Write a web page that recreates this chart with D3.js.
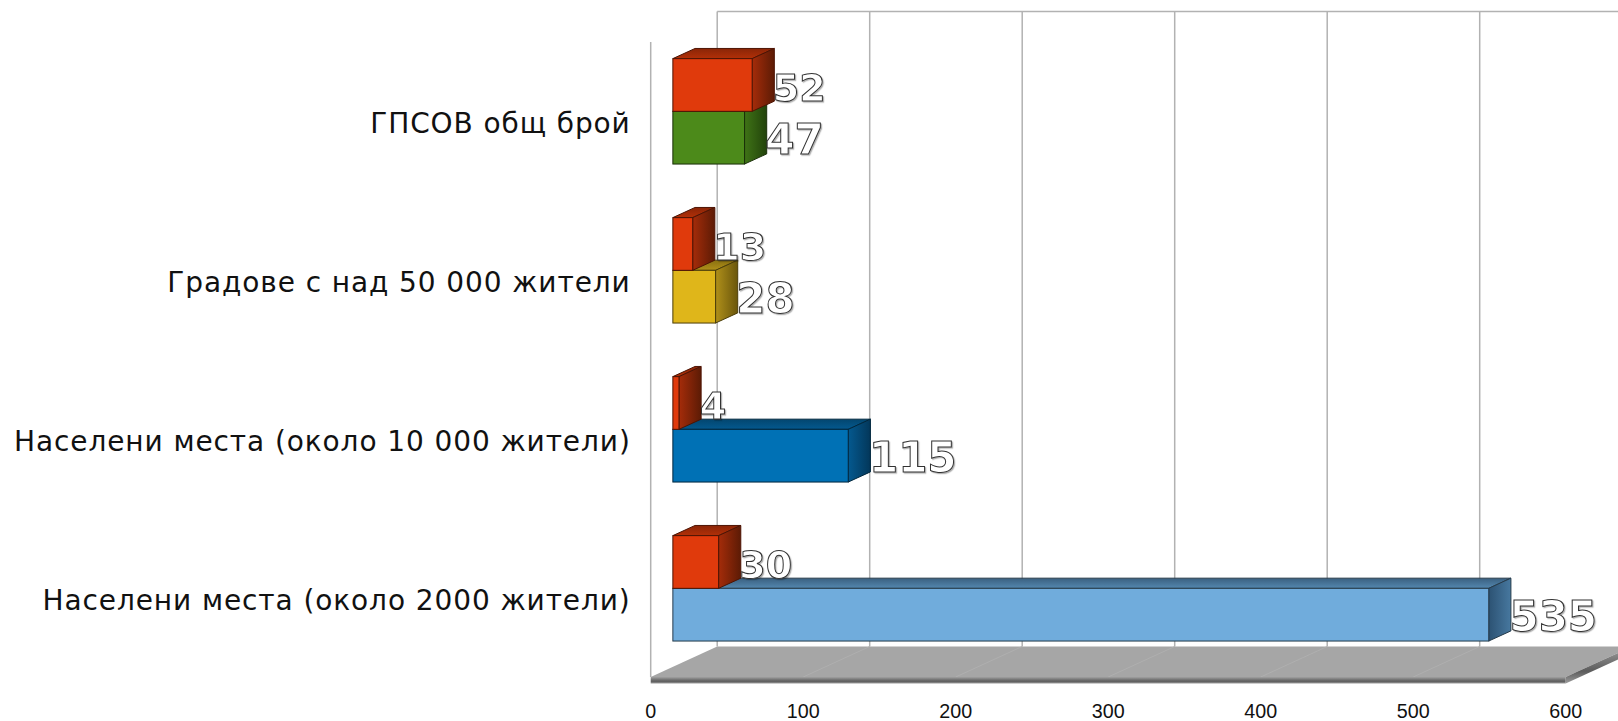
<!DOCTYPE html>
<html>
<head>
<meta charset="utf-8">
<script src="https://cdn.jsdelivr.net/npm/d3@7"></script>
<style>
html, body { margin: 0; padding: 0; background: #fff; overflow: hidden; }
.cat text { font-family: "DejaVu Sans", sans-serif; font-size: 28px; fill: #111; letter-spacing: 0.9px; }
.val text { font-family: "Liberation Sans", Arial, sans-serif; font-size: 19.7px; fill: #111; }
.num { font-family: "DejaVu Sans", sans-serif; font-weight: bold; fill: #fff; stroke: #333; stroke-width: 1; filter: url(#numShadow); }
</style>
</head>
<body>
<div id="chart-area"></div>
<script>
// DATA
var categories = ['ГПСОВ общ брой', 'Градове с над 50 000 жители', 'Населени места (около 10 000 жители)', 'Населени места (около 2000 жители)'];
var redValues = [52, 13, 4, 30];
var otherValues = [47, 28, 115, 535];
var otherColors = ['#4c8a1a', '#dfb61a', '#0071b5', '#70acdc'];
var redColor = '#e03a0c';
var xTicks = [0, 100, 200, 300, 400, 500, 600];

// CANVAS
var width = 1618, height = 721;
var svg = d3.select('#chart-area').append('svg')
    .attr('width', width)
    .attr('height', height)
    .style('display', 'block');
var defs = svg.append('defs');

var shadow = defs.append('filter').attr('id', 'numShadow')
    .attr('x', '-10%').attr('y', '-10%').attr('width', '130%').attr('height', '130%');
shadow.append('feDropShadow')
    .attr('dx', 1.2).attr('dy', 1.2).attr('stdDeviation', 0.7)
    .attr('flood-color', '#000').attr('flood-opacity', 0.3);

// depth of the 3d box
var depthX = 66.5, depthY = -30.5;

// SCALES
var x = d3.scaleLinear().domain([0, 600]).range([650.7, 1565.7]);
var y = d3.scaleBand().domain(categories).range([42, 678]).paddingInner(0.337).paddingOuter(0.1685);
var inner = d3.scaleBand().domain(['red', 'other']).range([0, y.bandwidth()]);

// WALLS
var floorY = 677;
var wallTop = 11.5;
var wallBottom = floorY + depthY;
var g = svg.append('g');

g.selectAll('.grid').data(xTicks).enter().append('line')
    .attr('class', 'grid')
    .attr('x1', d => x(d) + depthX).attr('x2', d => x(d) + depthX)
    .attr('y1', wallTop).attr('y2', wallBottom)
    .attr('stroke', '#b2b2b2').attr('stroke-width', 1.5);
g.append('line')
    .attr('x1', x(0) + depthX).attr('x2', width)
    .attr('y1', wallTop).attr('y2', wallTop)
    .attr('stroke', '#b2b2b2').attr('stroke-width', 1.5);
g.append('line')
    .attr('x1', x(0)).attr('x2', x(0))
    .attr('y1', 42).attr('y2', floorY)
    .attr('stroke', '#b2b2b2').attr('stroke-width', 1.5);

// FLOOR
function vGrad(id, stops, dir) {
    var gr = defs.append('linearGradient').attr('id', id);
    if (dir === 'h') gr.attr('x1', 0).attr('x2', 1).attr('y1', 0).attr('y2', 0);
    else gr.attr('x1', 0).attr('x2', 0).attr('y1', 0).attr('y2', 1);
    stops.forEach((s, i) => {
        gr.append('stop').attr('offset', i / (stops.length - 1)).attr('stop-color', s);
    });
    return 'url(#' + id + ')';
}
var floorBand = 6.5;
var bandStops = ['#a2a2a2', '#7c7c7c', '#5c5c5c', '#9c9c9c'];
g.append('polygon')
    .attr('points', [[x(0), floorY], [x(0) + depthX, wallBottom], [x(600) + depthX, wallBottom], [x(600), floorY]].join(' '))
    .attr('fill', '#a6a6a6');
g.selectAll('.floorline').data(xTicks.slice(1, -1)).enter().append('line')
    .attr('class', 'floorline')
    .attr('x1', d => x(d)).attr('x2', d => x(d) + depthX)
    .attr('y1', floorY).attr('y2', wallBottom)
    .attr('stroke', '#afafaf').attr('stroke-width', 1);
g.append('rect')
    .attr('x', x(0)).attr('y', floorY)
    .attr('width', x(600) - x(0)).attr('height', floorBand)
    .attr('fill', vGrad('floorFront', bandStops, 'v'));
g.append('polygon')
    .attr('points', [[x(600), floorY], [x(600) + depthX, wallBottom], [x(600) + depthX, wallBottom + floorBand], [x(600), floorY + floorBand]].join(' '))
    .attr('fill', vGrad('floorSide', bandStops, 'v'));

// BARS
var barOff = 1 / 3;
var sideFaces = {
    '#e03a0c': ['#a52c0a', '#5c1b05'],
    '#4c8a1a': ['#3f7316', '#22430b'],
    '#dfb61a': ['#b0901a', '#6a560b'],
    '#0071b5': ['#04598f', '#03375a'],
    '#70acdc': ['#2c5273', '#47789f']
};
var topFaces = {
    '#e03a0c': ['#8a2507', '#b23008'],
    '#4c8a1a': ['#2f5a10', '#3f7316'],
    '#dfb61a': ['#8a7010', '#b0901a'],
    '#0071b5': ['#03466f', '#04598f'],
    '#70acdc': ['#3a6080', '#5488b0']
};

function drawBar(parent, value, cat, key, color) {
    var dx = depthX * barOff, dy = depthY * barOff;
    var x0 = x(0) + dx;
    var x1 = x(value) + dx;
    var y0 = y(cat) + inner(key) + dy;
    var y1 = y0 + inner.bandwidth();
    var id = 'c' + color.slice(1);
    if (defs.select('#side' + id).empty()) {
        vGrad('side' + id, sideFaces[color], 'h');
        vGrad('top' + id, topFaces[color], 'v');
    }
    var edge = d3.color(color).darker(3).formatHex();
    parent.append('polygon')
        .attr('points', [[x0, y0], [x0 + dx, y0 + dy], [x1 + dx, y0 + dy], [x1, y0]].join(' '))
        .attr('fill', 'url(#top' + id + ')').attr('stroke', edge);
    parent.append('polygon')
        .attr('points', [[x1, y0], [x1 + dx, y0 + dy], [x1 + dx, y1 + dy], [x1, y1]].join(' '))
        .attr('fill', 'url(#side' + id + ')').attr('stroke', edge);
    parent.append('rect')
        .attr('x', x0).attr('y', y0)
        .attr('width', x1 - x0).attr('height', y1 - y0)
        .attr('fill', color).attr('stroke', edge);
}

var bars = svg.append('g');
categories.forEach((c, i) => {
    drawBar(bars, otherValues[i], c, 'other', otherColors[i]);
    drawBar(bars, redValues[i], c, 'red', redColor);
});

// VALUE LABELS
var nums = svg.append('g');
function numLabel(value, cat, key, size) {
    nums.append('text')
        .attr('class', 'num')
        .attr('font-size', size)
        .attr('x', x(value) + depthX * 2 * barOff - 1.5)
        .attr('y', y(cat) + inner(key) + depthY * barOff + 42.5)
        .text(value);
}
categories.forEach((c, i) => {
    numLabel(redValues[i], c, 'red', 38);
    numLabel(otherValues[i], c, 'other', 42);
});

// AXES
var xAxis = d3.axisBottom(x).tickValues(xTicks).tickSize(0).tickPadding(21);
svg.append('g').attr('class', 'val')
    .attr('transform', 'translate(-0.5,' + (floorY + floorBand) + ')')
    .call(xAxis)
    .call(s => s.select('.domain').remove());

var yAxis = d3.axisLeft(y).tickSize(0).tickPadding(20);
svg.append('g').attr('class', 'cat')
    .attr('transform', 'translate(' + x(0) + ',3)')
    .call(yAxis)
    .call(s => s.select('.domain').remove());
</script>
</body>
</html>
